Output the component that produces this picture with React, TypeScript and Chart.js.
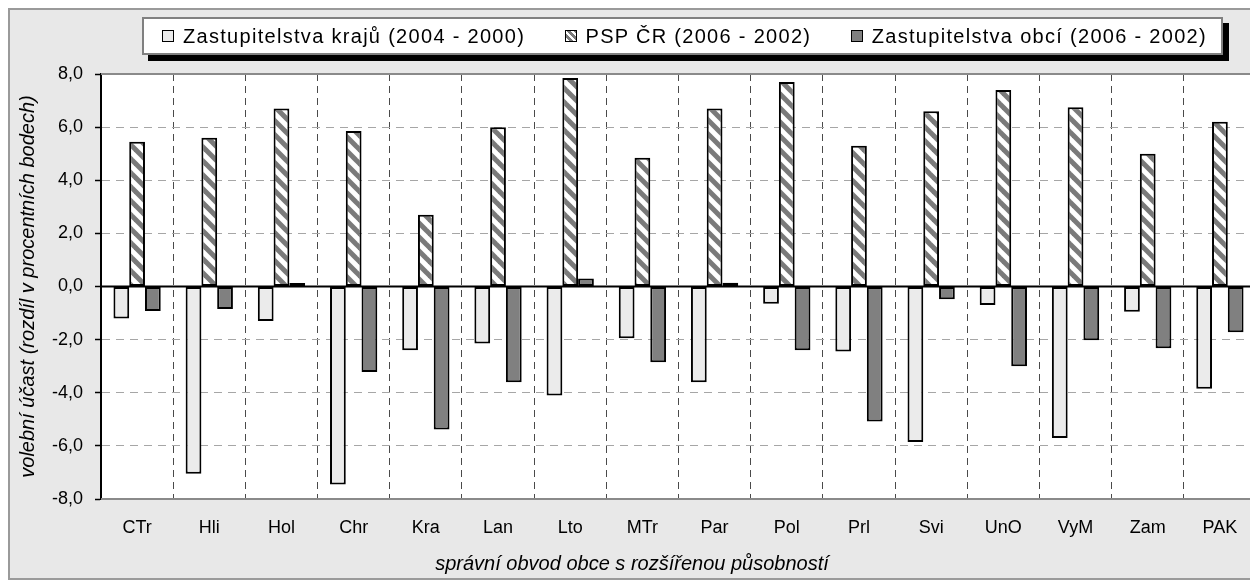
import React, { useEffect, useRef } from "react";
import { Chart, registerables } from "chart.js";

Chart.register(...registerables);

const categories = ["CTr", "Hli", "Hol", "Chr", "Kra", "Lan", "Lto", "MTr", "Par", "Pol", "Prl", "Svi", "UnO", "VyM", "Zam", "PAK"];
const krajeValues = [-1.2, -7.05, -1.3, -7.45, -2.4, -2.15, -4.1, -1.95, -3.6, -0.65, -2.45, -5.85, -0.7, -5.7, -0.95, -3.85];
const pspValues = [5.45, 5.6, 6.7, 5.85, 2.7, 6.0, 7.85, 4.85, 6.7, 7.7, 5.3, 6.6, 7.4, 6.75, 5.0, 6.2];
const obceValues = [-0.92, -0.85, 0.13, -3.22, -5.38, -3.6, 0.3, -2.85, 0.14, -2.4, -5.08, -0.48, -3.0, -2.02, -2.32, -1.72];
const seriesNames = ["Zastupitelstva krajů (2004 - 2000)", "PSP ČR (2006 - 2002)", "Zastupitelstva obcí (2006 - 2002)"];
const yMin = -8;
const yMax = 8;
const yStep = 2;
const yTitle = "volební účast (rozdíl v procentních bodech)";
const xTitle = "správní obvod obce s rozšířenou působností";

const FONT = "'Liberation Sans', Arial, sans-serif";
const W = 1250;
const H = 572;
const PLOT_BOTTOM = 491;
const LIGHT = "#ebebeb";
const DARK = "#808080";
const STRIPE = "#7a7a7a";

function makeHatch(ctx: CanvasRenderingContext2D): CanvasPattern | string {
  const s = 14;
  const c = document.createElement("canvas");
  c.width = s;
  c.height = s;
  const g = c.getContext("2d");
  if (!g) return "#fff";
  g.fillStyle = "#fff";
  g.fillRect(0, 0, s, s);
  g.strokeStyle = STRIPE;
  g.lineWidth = 5;
  for (const off of [-s, 0, s]) {
    g.beginPath();
    g.moveTo(off - 3, -3);
    g.lineTo(off + s + 3, s + 3);
    g.stroke();
  }
  return ctx.createPattern(c, "repeat") || "#fff";
}

const framePlugin = {
  id: "framePlugin",
  beforeDraw(chart: any) {
    const { ctx, width, height, chartArea: a } = chart;
    ctx.save();
    ctx.fillStyle = "#e8e8e8";
    ctx.fillRect(0, 0, width, height);
    ctx.strokeStyle = "#9a9a9a";
    ctx.lineWidth = 2;
    ctx.strokeRect(1, 1, width - 2, height - 2);
    ctx.fillStyle = "#ffffff";
    ctx.fillRect(a.left, a.top, a.right - a.left, a.bottom - a.top);
    ctx.restore();
  },
  beforeDatasetsDraw(chart: any) {
    const { ctx, chartArea: a, scales } = chart;
    const y0 = scales.y.getPixelForValue(0);
    ctx.save();
    ctx.strokeStyle = "#8a8a8a";
    ctx.lineWidth = 2;
    ctx.beginPath();
    ctx.moveTo(a.left, a.top);
    ctx.lineTo(a.right, a.top);
    ctx.lineTo(a.right, a.bottom);
    ctx.lineTo(a.left, a.bottom);
    ctx.stroke();
    ctx.strokeStyle = "#000";
    ctx.lineWidth = 2;
    ctx.beginPath();
    ctx.moveTo(a.left, y0);
    ctx.lineTo(a.right, y0);
    ctx.stroke();
    ctx.restore();
  },
};

const swatchBase: React.CSSProperties = {
  display: "inline-block",
  width: 12,
  height: 12,
  boxSizing: "border-box",
  border: "1.5px solid #000",
  marginRight: 9,
  flex: "0 0 auto",
};

export default function App() {
  const ref = useRef<HTMLCanvasElement>(null);

  useEffect(() => {
    document.documentElement.style.overflow = "hidden";
    const canvas = ref.current;
    if (!canvas) return;
    const ctx = canvas.getContext("2d");
    if (!ctx) return;
    const hatch = makeHatch(ctx);

    const chart = new Chart(ctx, {
      type: "bar",
      data: {
        labels: categories,
        datasets: [
          { label: seriesNames[0], data: krajeValues, backgroundColor: LIGHT, borderColor: "#000", borderWidth: 2, borderSkipped: false },
          { label: seriesNames[1], data: pspValues, backgroundColor: hatch as any, borderColor: "#000", borderWidth: 2, borderSkipped: false },
          { label: seriesNames[2], data: obceValues, backgroundColor: DARK, borderColor: "#000", borderWidth: 2, borderSkipped: false },
        ],
      },
      options: {
        responsive: false,
        animation: false,
        layout: { padding: { top: 66, right: 2, left: 0, bottom: 0 } },
        datasets: { bar: { categoryPercentage: 0.655, barPercentage: 1 } },
        plugins: {
          legend: { display: false },
          tooltip: { enabled: false },
          title: {
            display: true,
            position: "bottom",
            text: xTitle,
            color: "#000",
            font: { family: FONT, size: 20, style: "italic", weight: "normal" },
            padding: { top: 2, bottom: 4 },
          },
        },
        scales: {
          x: {
            type: "category",
            offset: true,
            grid: {
              offset: true,
              drawTicks: false,
              lineWidth: 1,
              color: (c: any) => (c.index === 0 ? "rgba(0,0,0,0)" : "#4a4a4a"),
            },
            border: { display: false, dash: [7, 5] },
            ticks: {
              autoSkip: false,
              maxRotation: 0,
              padding: 18,
              color: "#000",
              font: { family: FONT, size: 18 },
            },
            afterFit: (scale: any) => {
              scale.height = H - 30 - PLOT_BOTTOM;
            },
          },
          y: {
            min: yMin,
            max: yMax,
            grid: {
              lineWidth: 1,
              color: (c: any) => (c.tick && c.tick.value === 0 ? "rgba(0,0,0,0)" : "#a6a6a6"),
              tickLength: 6,
              tickColor: "#000",
              tickWidth: 1.5,
              tickBorderDash: [],
            },
            border: { display: true, color: "#000", width: 2, dash: [8, 6] },
            ticks: {
              stepSize: yStep,
              padding: 12,
              color: "#000",
              font: { family: FONT, size: 18 },
              callback: (v: any) => Number(v).toFixed(1).replace(".", ","),
            },
            title: {
              display: true,
              text: yTitle,
              color: "#000",
              font: { family: FONT, size: 20, style: "italic" },
              padding: { top: 8, bottom: 0 },
            },
            afterFit: (scale: any) => {
              scale.width = 93;
            },
          },
        },
      },
      plugins: [framePlugin],
    } as any);

    return () => chart.destroy();
  }, []);

  const swatches: React.CSSProperties[] = [
    { ...swatchBase, background: LIGHT },
    {
      ...swatchBase,
      background: `repeating-linear-gradient(45deg, #ffffff 0px, #ffffff 2.5px, ${STRIPE} 2.5px, ${STRIPE} 5px)`,
    },
    { ...swatchBase, background: DARK },
  ];

  return (
    <div style={{ position: "relative", width: W, height: H }}>
      <canvas ref={ref} width={W} height={H} style={{ display: "block", width: W, height: H }} />
      <div
        style={{
          position: "absolute",
          left: 134,
          top: 9,
          width: 1081,
          height: 38,
          boxSizing: "border-box",
          border: "2px solid #808080",
          background: "#fff",
          boxShadow: "6px 6px 0 #000",
          display: "flex",
          alignItems: "center",
          justifyContent: "space-between",
          paddingLeft: 18,
          paddingRight: 14,
          fontFamily: FONT,
          fontSize: 20,
          letterSpacing: "1.3px",
          color: "#000",
          whiteSpace: "nowrap",
        }}
      >
        {seriesNames.map((name, i) => (
          <span key={name} style={{ display: "flex", alignItems: "center" }}>
            <span style={swatches[i]} />
            <span>{name}</span>
          </span>
        ))}
      </div>
    </div>
  );
}
